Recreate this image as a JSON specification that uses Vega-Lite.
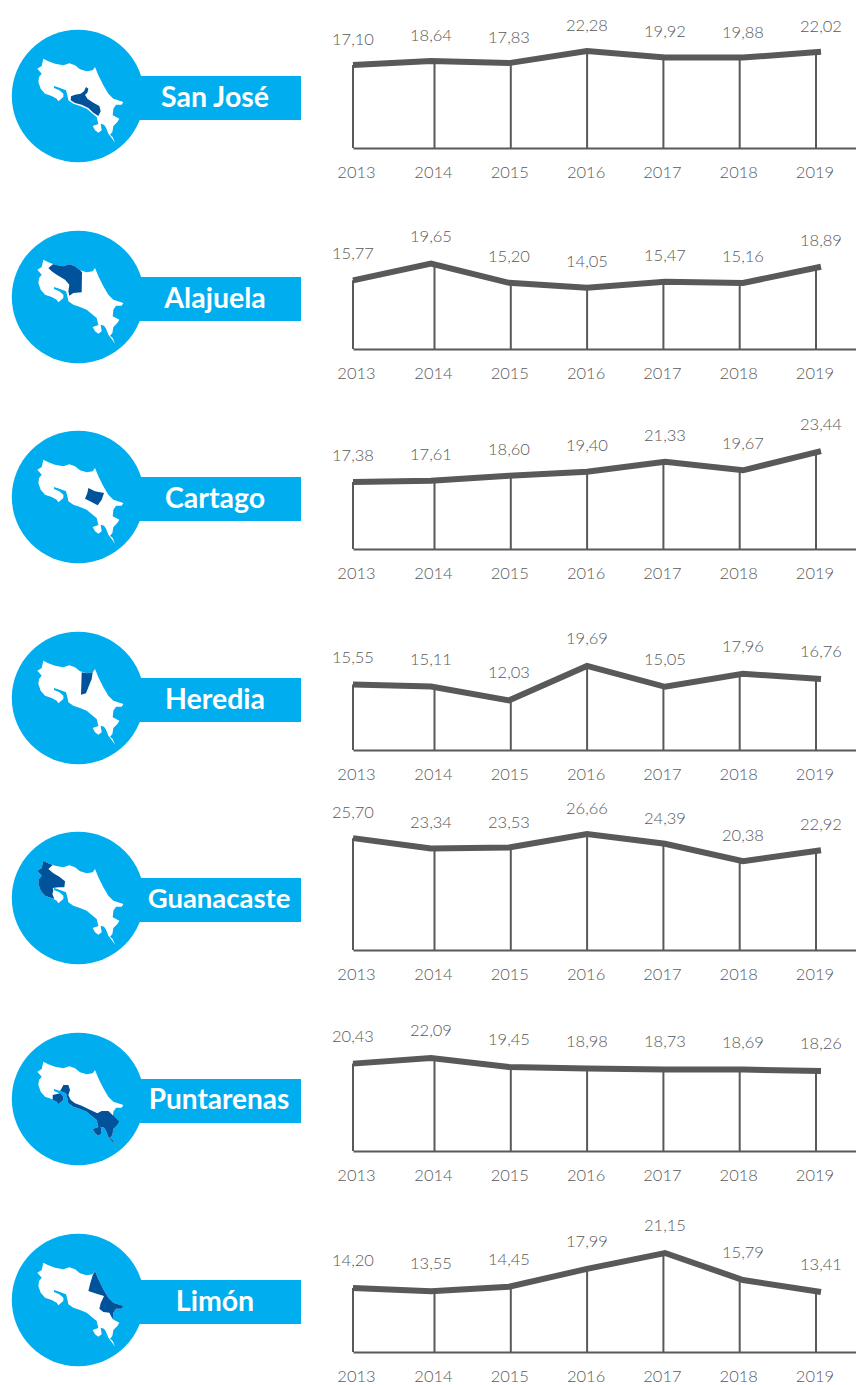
{"$schema":"https://vega.github.io/schema/vega-lite/v6.json","background":"white","padding":0,"spacing":0,"bounds":"flush","align":"each","columns":2,
"config":{"view":{"stroke":null},"locale":{"number":{"decimal":",","thousands":".","grouping":[3],"currency":["","€"]}},
"text":{"font":"Lato","fontSize":16.5,"fontWeight":300,"color":"#595959"},
"axisX":{"title":null,"ticks":false,"grid":false,"domainColor":"#595959","domainWidth":2,"labelFont":"Lato","labelFontSize":16.5,"labelFontWeight":300,"labelColor":"#595959","labelPadding":16,"labelFlush":false,"labelOverlap":false}},
"datasets":{
"tasas":[
{"provincia":"San José","anio":2013,"valor":17.10},{"provincia":"San José","anio":2014,"valor":18.64},{"provincia":"San José","anio":2015,"valor":17.83},{"provincia":"San José","anio":2016,"valor":22.28},{"provincia":"San José","anio":2017,"valor":19.92},{"provincia":"San José","anio":2018,"valor":19.88},{"provincia":"San José","anio":2019,"valor":22.02},
{"provincia":"Alajuela","anio":2013,"valor":15.77},{"provincia":"Alajuela","anio":2014,"valor":19.65},{"provincia":"Alajuela","anio":2015,"valor":15.20},{"provincia":"Alajuela","anio":2016,"valor":14.05},{"provincia":"Alajuela","anio":2017,"valor":15.47},{"provincia":"Alajuela","anio":2018,"valor":15.16},{"provincia":"Alajuela","anio":2019,"valor":18.89},
{"provincia":"Cartago","anio":2013,"valor":17.38},{"provincia":"Cartago","anio":2014,"valor":17.61},{"provincia":"Cartago","anio":2015,"valor":18.60},{"provincia":"Cartago","anio":2016,"valor":19.40},{"provincia":"Cartago","anio":2017,"valor":21.33},{"provincia":"Cartago","anio":2018,"valor":19.67},{"provincia":"Cartago","anio":2019,"valor":23.44},
{"provincia":"Heredia","anio":2013,"valor":15.55},{"provincia":"Heredia","anio":2014,"valor":15.11},{"provincia":"Heredia","anio":2015,"valor":12.03},{"provincia":"Heredia","anio":2016,"valor":19.69},{"provincia":"Heredia","anio":2017,"valor":15.05},{"provincia":"Heredia","anio":2018,"valor":17.96},{"provincia":"Heredia","anio":2019,"valor":16.76},
{"provincia":"Guanacaste","anio":2013,"valor":25.70},{"provincia":"Guanacaste","anio":2014,"valor":23.34},{"provincia":"Guanacaste","anio":2015,"valor":23.53},{"provincia":"Guanacaste","anio":2016,"valor":26.66},{"provincia":"Guanacaste","anio":2017,"valor":24.39},{"provincia":"Guanacaste","anio":2018,"valor":20.38},{"provincia":"Guanacaste","anio":2019,"valor":22.92},
{"provincia":"Puntarenas","anio":2013,"valor":20.43},{"provincia":"Puntarenas","anio":2014,"valor":22.09},{"provincia":"Puntarenas","anio":2015,"valor":19.45},{"provincia":"Puntarenas","anio":2016,"valor":18.98},{"provincia":"Puntarenas","anio":2017,"valor":18.73},{"provincia":"Puntarenas","anio":2018,"valor":18.69},{"provincia":"Puntarenas","anio":2019,"valor":18.26},
{"provincia":"Limón","anio":2013,"valor":14.20},{"provincia":"Limón","anio":2014,"valor":13.55},{"provincia":"Limón","anio":2015,"valor":14.45},{"provincia":"Limón","anio":2016,"valor":17.99},{"provincia":"Limón","anio":2017,"valor":21.15},{"provincia":"Limón","anio":2018,"valor":15.79},{"provincia":"Limón","anio":2019,"valor":13.41}
],
"mapa":[
{"type":"Feature","properties":{"nombre":"Franja"},"geometry":{"type":"Polygon","coordinates":[[[-84.46,10.58],[-77.77,10.58],[-77.77,9.26],[-84.46,9.26],[-84.46,10.58]]]}},
{"type":"Feature","properties":{"nombre":"Costa Rica"},"geometry":{"type":"Polygon","coordinates":[[[-85.68,10.8],[-85.55,10.88],[-85.5,11.1],[-85.35,11.02],[-85.15,10.95],[-84.9,10.9],[-84.72,10.96],[-84.55,10.9],[-84.4,10.78],[-84.2,10.72],[-84.02,10.75],[-83.95,10.85],[-83.85,10.6],[-83.7,10.3],[-83.55,10.05],[-83.4,9.9],[-83.1,9.8],[-83.15,9.72],[-83.32,9.72],[-83.4,9.6],[-83.42,9.4],[-83.22,9.3],[-83.28,9.2],[-83.4,9.08],[-83.43,8.9],[-83.5,8.82],[-83.42,8.75],[-83.35,8.58],[-83.45,8.72],[-83.55,8.85],[-83.62,9.03],[-83.68,9.12],[-83.78,9.15],[-83.75,8.95],[-83.85,8.88],[-83.95,8.95],[-84.02,9.08],[-83.85,9.14],[-83.9,9.35],[-84.02,9.45],[-84.2,9.6],[-84.4,9.68],[-84.6,9.75],[-84.75,9.85],[-84.78,10.0],[-84.82,10.15],[-85.0,10.22],[-85.18,10.28],[-85.18,10.22],[-85.02,10.15],[-84.9,10.05],[-84.9,9.95],[-85.05,9.82],[-85.1,9.9],[-85.25,9.98],[-85.45,10.05],[-85.58,10.2],[-85.65,10.4],[-85.63,10.55],[-85.55,10.65],[-85.68,10.8]]]}},
{"type":"Feature","properties":{"nombre":"San José"},"geometry":{"type":"Polygon","coordinates":[[[-84.22,10.25],[-84.15,10.2],[-84.18,10.08],[-84.25,10.02],[-84.18,9.9],[-84.0,9.78],[-83.82,9.68],[-83.78,9.52],[-83.85,9.38],[-84.0,9.48],[-84.15,9.62],[-84.35,9.72],[-84.55,9.77],[-84.68,9.85],[-84.67,9.97],[-84.55,10.02],[-84.38,10.05],[-84.28,10.12],[-84.22,10.25]]]}},
{"type":"Feature","properties":{"nombre":"Alajuela"},"geometry":{"type":"Polygon","coordinates":[[[-85.35,10.85],[-85.2,10.97],[-85.15,10.95],[-84.9,10.9],[-84.72,10.96],[-84.55,10.9],[-84.4,10.78],[-84.34,10.72],[-84.35,10.12],[-84.6,10.1],[-84.72,10.02],[-84.75,10.15],[-84.72,10.35],[-84.85,10.5],[-85.1,10.65],[-85.25,10.75],[-85.35,10.85]]]}},
{"type":"Feature","properties":{"nombre":"Cartago"},"geometry":{"type":"Polygon","coordinates":[[[-84.15,10.25],[-83.95,10.15],[-83.68,10.1],[-83.75,9.9],[-83.87,9.73],[-84.0,9.8],[-84.25,9.93],[-84.18,10.1],[-84.15,10.25]]]}},
{"type":"Feature","properties":{"nombre":"Heredia"},"geometry":{"type":"Polygon","coordinates":[[[-84.35,10.75],[-84.2,10.72],[-84.02,10.75],[-84.05,10.55],[-84.15,10.3],[-84.22,10.12],[-84.37,10.08],[-84.35,10.75]]]}},
{"type":"Feature","properties":{"nombre":"Guanacaste"},"geometry":{"type":"Polygon","coordinates":[[[-85.68,10.8],[-85.55,10.88],[-85.5,11.1],[-85.35,11.02],[-85.22,10.97],[-85.35,10.85],[-85.2,10.72],[-85.02,10.62],[-84.85,10.48],[-84.87,10.3],[-85.05,10.3],[-85.22,10.28],[-85.2,10.2],[-85.23,10.1],[-85.17,9.95],[-85.25,9.98],[-85.45,10.05],[-85.58,10.2],[-85.65,10.4],[-85.63,10.55],[-85.55,10.65],[-85.68,10.8]]]}},
{"type":"Feature","properties":{"nombre":"Puntarenas"},"geometry":{"type":"MultiPolygon","coordinates":[[[[-85.22,10.1],[-85.0,10.15],[-84.9,10.05],[-84.9,9.95],[-85.05,9.82],[-85.1,9.9],[-85.22,9.96],[-85.22,10.1]]],[[[-85.18,10.28],[-85.0,10.22],[-84.95,10.3],[-84.9,10.4],[-84.75,10.4],[-84.7,10.25],[-84.75,10.1],[-84.68,9.95],[-84.55,9.85],[-84.35,9.78],[-84.15,9.68],[-83.88,9.55],[-83.75,9.62],[-83.55,9.62],[-83.4,9.48],[-83.22,9.3],[-83.28,9.2],[-83.4,9.08],[-83.43,8.9],[-83.5,8.82],[-83.42,8.75],[-83.35,8.58],[-83.45,8.72],[-83.55,8.85],[-83.62,9.03],[-83.68,9.12],[-83.78,9.15],[-83.75,8.95],[-83.85,8.88],[-83.95,8.95],[-84.02,9.08],[-83.85,9.14],[-83.9,9.35],[-84.02,9.45],[-84.2,9.6],[-84.4,9.68],[-84.6,9.75],[-84.75,9.85],[-84.78,10.0],[-84.82,10.15],[-85.0,10.22],[-85.18,10.28]]]]}},
{"type":"Feature","properties":{"nombre":"Limón"},"geometry":{"type":"Polygon","coordinates":[[[-83.95,10.85],[-83.85,10.6],[-83.7,10.3],[-83.55,10.05],[-83.4,9.9],[-83.1,9.8],[-83.15,9.72],[-83.32,9.72],[-83.4,9.6],[-83.42,9.4],[-83.52,9.6],[-83.7,9.62],[-83.82,9.72],[-83.78,9.88],[-83.68,10.1],[-83.95,10.18],[-84.15,10.25],[-84.1,10.45],[-84.02,10.72],[-83.95,10.85]]]}}
]},
"concat":[
{"width":353,"height":201,"projection":{"type":"identity","reflectY":true,"scale":33.333,"translate":[2893.33,428.67]},"layer":[
{"data":{"name":"mapa"},"transform":[{"filter":"datum.properties.nombre==='Franja'"}],"mark":{"type":"geoshape","fill":"#00aeef","stroke":null}},
{"data":{"values":[{"provincia":"San José"}]},"mark":{"type":"point","shape":"circle","filled":true,"opacity":1,"color":"#00aeef","size":17550},"encoding":{"longitude":{"datum":-84.46},"latitude":{"datum":9.98}}},
{"data":{"name":"mapa"},"transform":[{"filter":"datum.properties.nombre==='Costa Rica'"}],"mark":{"type":"geoshape","fill":"#ffffff","stroke":null}},
{"data":{"name":"mapa"},"transform":[{"filter":"datum.properties.nombre==='San José'"}],"mark":{"type":"geoshape","fill":"#00529b","stroke":null}},
{"data":{"values":[{"provincia":"San José"}]},"mark":{"type":"text","font":"Lato","fontWeight":"bold","fontSize":28.5,"color":"#ffffff"},"encoding":{"longitude":{"datum":-80.35},"latitude":{"datum":9.92},"text":{"field":"provincia"}}}
]},
{"width":503,"height":148,"data":{"name":"tasas"},"transform":[{"filter":"datum.provincia==='San José'"}],"resolve":{"scale":{"x":"independent"}},
"encoding":{"y":{"field":"valor","type":"quantitative","axis":null,"scale":{"domain":[-13.6,41.2],"nice":false}}},
"layer":[
{"mark":{"type":"rule","color":"#595959","strokeWidth":2},"encoding":{"x":{"field":"anio","type":"quantitative","axis":{"format":"d","values":[2013,2014,2015,2016,2017,2018,2019],"labelOffset":{"expr":"datum.value===2013?3:-1.5"}},"scale":{"domain":[2013,2014,2019,2019.524],"range":[0,81.5,463,503],"nice":false}},"y2":{"datum":-13.6}}},
{"mark":{"type":"line","color":"#595959","strokeWidth":6},"encoding":{"x":{"field":"anio","type":"quantitative","axis":null,"scale":{"domain":[2013,2019],"range":[0,468],"nice":false}}}},
{"mark":{"type":"text","dy":-25},"encoding":{"x":{"field":"anio","type":"quantitative","axis":null,"scale":{"domain":[2013,2019],"range":[0,468],"nice":false}},"text":{"field":"valor","type":"quantitative","format":".2f"}}}
]},
{"width":353,"height":200,"projection":{"type":"identity","reflectY":true,"scale":33.333,"translate":[2893.33,428.67]},"layer":[
{"data":{"name":"mapa"},"transform":[{"filter":"datum.properties.nombre==='Franja'"}],"mark":{"type":"geoshape","fill":"#00aeef","stroke":null}},
{"data":{"values":[{"provincia":"Alajuela"}]},"mark":{"type":"point","shape":"circle","filled":true,"opacity":1,"color":"#00aeef","size":17550},"encoding":{"longitude":{"datum":-84.46},"latitude":{"datum":9.98}}},
{"data":{"name":"mapa"},"transform":[{"filter":"datum.properties.nombre==='Costa Rica'"}],"mark":{"type":"geoshape","fill":"#ffffff","stroke":null}},
{"data":{"name":"mapa"},"transform":[{"filter":"datum.properties.nombre==='Alajuela'"}],"mark":{"type":"geoshape","fill":"#00529b","stroke":null}},
{"data":{"values":[{"provincia":"Alajuela"}]},"mark":{"type":"text","font":"Lato","fontWeight":"bold","fontSize":28.5,"color":"#ffffff"},"encoding":{"longitude":{"datum":-80.35},"latitude":{"datum":9.92},"text":{"field":"provincia"}}}
]},
{"width":503,"height":148,"data":{"name":"tasas"},"transform":[{"filter":"datum.provincia==='Alajuela'"}],"resolve":{"scale":{"x":"independent"}},
"encoding":{"y":{"field":"valor","type":"quantitative","axis":null,"scale":{"domain":[0,34],"nice":false}}},
"layer":[
{"mark":{"type":"rule","color":"#595959","strokeWidth":2},"encoding":{"x":{"field":"anio","type":"quantitative","axis":{"format":"d","values":[2013,2014,2015,2016,2017,2018,2019],"labelOffset":{"expr":"datum.value===2013?3:-1.5"}},"scale":{"domain":[2013,2014,2019,2019.524],"range":[0,81.5,463,503],"nice":false}},"y2":{"datum":0}}},
{"mark":{"type":"line","color":"#595959","strokeWidth":6},"encoding":{"x":{"field":"anio","type":"quantitative","axis":null,"scale":{"domain":[2013,2019],"range":[0,468],"nice":false}}}},
{"mark":{"type":"text","dy":-26},"encoding":{"x":{"field":"anio","type":"quantitative","axis":null,"scale":{"domain":[2013,2019],"range":[0,468],"nice":false}},"text":{"field":"valor","type":"quantitative","format":".2f"}}}
]},
{"width":353,"height":201,"projection":{"type":"identity","reflectY":true,"scale":33.333,"translate":[2893.33,428.67]},"layer":[
{"data":{"name":"mapa"},"transform":[{"filter":"datum.properties.nombre==='Franja'"}],"mark":{"type":"geoshape","fill":"#00aeef","stroke":null}},
{"data":{"values":[{"provincia":"Cartago"}]},"mark":{"type":"point","shape":"circle","filled":true,"opacity":1,"color":"#00aeef","size":17550},"encoding":{"longitude":{"datum":-84.46},"latitude":{"datum":9.98}}},
{"data":{"name":"mapa"},"transform":[{"filter":"datum.properties.nombre==='Costa Rica'"}],"mark":{"type":"geoshape","fill":"#ffffff","stroke":null}},
{"data":{"name":"mapa"},"transform":[{"filter":"datum.properties.nombre==='Cartago'"}],"mark":{"type":"geoshape","fill":"#00529b","stroke":null}},
{"data":{"values":[{"provincia":"Cartago"}]},"mark":{"type":"text","font":"Lato","fontWeight":"bold","fontSize":28.5,"color":"#ffffff"},"encoding":{"longitude":{"datum":-80.35},"latitude":{"datum":9.92},"text":{"field":"provincia"}}}
]},
{"width":503,"height":148,"data":{"name":"tasas"},"transform":[{"filter":"datum.provincia==='Cartago'"}],"resolve":{"scale":{"x":"independent"}},
"encoding":{"y":{"field":"valor","type":"quantitative","axis":null,"scale":{"domain":[4.24,33.26],"nice":false}}},
"layer":[
{"mark":{"type":"rule","color":"#595959","strokeWidth":2},"encoding":{"x":{"field":"anio","type":"quantitative","axis":{"format":"d","values":[2013,2014,2015,2016,2017,2018,2019],"labelOffset":{"expr":"datum.value===2013?3:-1.5"}},"scale":{"domain":[2013,2014,2019,2019.524],"range":[0,81.5,463,503],"nice":false}},"y2":{"datum":4.24}}},
{"mark":{"type":"line","color":"#595959","strokeWidth":6},"encoding":{"x":{"field":"anio","type":"quantitative","axis":null,"scale":{"domain":[2013,2019],"range":[0,468],"nice":false}}}},
{"mark":{"type":"text","dy":-26},"encoding":{"x":{"field":"anio","type":"quantitative","axis":null,"scale":{"domain":[2013,2019],"range":[0,468],"nice":false}},"text":{"field":"valor","type":"quantitative","format":".2f"}}}
]},
{"width":353,"height":200,"projection":{"type":"identity","reflectY":true,"scale":33.333,"translate":[2893.33,428.67]},"layer":[
{"data":{"name":"mapa"},"transform":[{"filter":"datum.properties.nombre==='Franja'"}],"mark":{"type":"geoshape","fill":"#00aeef","stroke":null}},
{"data":{"values":[{"provincia":"Heredia"}]},"mark":{"type":"point","shape":"circle","filled":true,"opacity":1,"color":"#00aeef","size":17550},"encoding":{"longitude":{"datum":-84.46},"latitude":{"datum":9.98}}},
{"data":{"name":"mapa"},"transform":[{"filter":"datum.properties.nombre==='Costa Rica'"}],"mark":{"type":"geoshape","fill":"#ffffff","stroke":null}},
{"data":{"name":"mapa"},"transform":[{"filter":"datum.properties.nombre==='Heredia'"}],"mark":{"type":"geoshape","fill":"#00529b","stroke":null}},
{"data":{"values":[{"provincia":"Heredia"}]},"mark":{"type":"text","font":"Lato","fontWeight":"bold","fontSize":28.5,"color":"#ffffff"},"encoding":{"longitude":{"datum":-80.35},"latitude":{"datum":9.92},"text":{"field":"provincia"}}}
]},
{"width":503,"height":148,"data":{"name":"tasas"},"transform":[{"filter":"datum.provincia==='Heredia'"}],"resolve":{"scale":{"x":"independent"}},
"encoding":{"y":{"field":"valor","type":"quantitative","axis":null,"scale":{"domain":[1,33.9],"nice":false}}},
"layer":[
{"mark":{"type":"rule","color":"#595959","strokeWidth":2},"encoding":{"x":{"field":"anio","type":"quantitative","axis":{"format":"d","values":[2013,2014,2015,2016,2017,2018,2019],"labelOffset":{"expr":"datum.value===2013?3:-1.5"}},"scale":{"domain":[2013,2014,2019,2019.524],"range":[0,81.5,463,503],"nice":false}},"y2":{"datum":1}}},
{"mark":{"type":"line","color":"#595959","strokeWidth":6},"encoding":{"x":{"field":"anio","type":"quantitative","axis":null,"scale":{"domain":[2013,2019],"range":[0,468],"nice":false}}}},
{"mark":{"type":"text","dy":-27},"encoding":{"x":{"field":"anio","type":"quantitative","axis":null,"scale":{"domain":[2013,2019],"range":[0,468],"nice":false}},"text":{"field":"valor","type":"quantitative","format":".2f"}}}
]},
{"width":353,"height":201,"projection":{"type":"identity","reflectY":true,"scale":33.333,"translate":[2893.33,428.67]},"layer":[
{"data":{"name":"mapa"},"transform":[{"filter":"datum.properties.nombre==='Franja'"}],"mark":{"type":"geoshape","fill":"#00aeef","stroke":null}},
{"data":{"values":[{"provincia":"Guanacaste"}]},"mark":{"type":"point","shape":"circle","filled":true,"opacity":1,"color":"#00aeef","size":17550},"encoding":{"longitude":{"datum":-84.46},"latitude":{"datum":9.98}}},
{"data":{"name":"mapa"},"transform":[{"filter":"datum.properties.nombre==='Costa Rica'"}],"mark":{"type":"geoshape","fill":"#ffffff","stroke":null}},
{"data":{"name":"mapa"},"transform":[{"filter":"datum.properties.nombre==='Guanacaste'"}],"mark":{"type":"geoshape","fill":"#00529b","stroke":null}},
{"data":{"values":[{"provincia":"Guanacaste"}]},"mark":{"type":"text","font":"Lato","fontWeight":"bold","fontSize":27.5,"color":"#ffffff"},"encoding":{"longitude":{"datum":-80.23},"latitude":{"datum":9.92},"text":{"field":"provincia"}}}
]},
{"width":503,"height":148,"data":{"name":"tasas"},"transform":[{"filter":"datum.provincia==='Guanacaste'"}],"resolve":{"scale":{"x":"independent"}},
"encoding":{"y":{"field":"valor","type":"quantitative","axis":null,"scale":{"domain":[0,34],"nice":false}}},
"layer":[
{"mark":{"type":"rule","color":"#595959","strokeWidth":2},"encoding":{"x":{"field":"anio","type":"quantitative","axis":{"format":"d","values":[2013,2014,2015,2016,2017,2018,2019],"labelOffset":{"expr":"datum.value===2013?3:-1.5"}},"scale":{"domain":[2013,2014,2019,2019.524],"range":[0,81.5,463,503],"nice":false}},"y2":{"datum":0}}},
{"mark":{"type":"line","color":"#595959","strokeWidth":6},"encoding":{"x":{"field":"anio","type":"quantitative","axis":null,"scale":{"domain":[2013,2019],"range":[0,468],"nice":false}}}},
{"mark":{"type":"text","dy":-25},"encoding":{"x":{"field":"anio","type":"quantitative","axis":null,"scale":{"domain":[2013,2019],"range":[0,468],"nice":false}},"text":{"field":"valor","type":"quantitative","format":".2f"}}}
]},
{"width":353,"height":201,"projection":{"type":"identity","reflectY":true,"scale":33.333,"translate":[2893.33,428.67]},"layer":[
{"data":{"name":"mapa"},"transform":[{"filter":"datum.properties.nombre==='Franja'"}],"mark":{"type":"geoshape","fill":"#00aeef","stroke":null}},
{"data":{"values":[{"provincia":"Puntarenas"}]},"mark":{"type":"point","shape":"circle","filled":true,"opacity":1,"color":"#00aeef","size":17550},"encoding":{"longitude":{"datum":-84.46},"latitude":{"datum":9.98}}},
{"data":{"name":"mapa"},"transform":[{"filter":"datum.properties.nombre==='Costa Rica'"}],"mark":{"type":"geoshape","fill":"#ffffff","stroke":null}},
{"data":{"name":"mapa"},"transform":[{"filter":"datum.properties.nombre==='Puntarenas'"}],"mark":{"type":"geoshape","fill":"#00529b","stroke":null}},
{"data":{"values":[{"provincia":"Puntarenas"}]},"mark":{"type":"text","font":"Lato","fontWeight":"bold","fontSize":28,"color":"#ffffff"},"encoding":{"longitude":{"datum":-80.23},"latitude":{"datum":9.92},"text":{"field":"provincia"}}}
]},
{"width":503,"height":148,"data":{"name":"tasas"},"transform":[{"filter":"datum.provincia==='Puntarenas'"}],"resolve":{"scale":{"x":"independent"}},
"encoding":{"y":{"field":"valor","type":"quantitative","axis":null,"scale":{"domain":[-5.27,38.26],"nice":false}}},
"layer":[
{"mark":{"type":"rule","color":"#595959","strokeWidth":2},"encoding":{"x":{"field":"anio","type":"quantitative","axis":{"format":"d","values":[2013,2014,2015,2016,2017,2018,2019],"labelOffset":{"expr":"datum.value===2013?3:-1.5"}},"scale":{"domain":[2013,2014,2019,2019.524],"range":[0,81.5,463,503],"nice":false}},"y2":{"datum":-5.27}}},
{"mark":{"type":"line","color":"#595959","strokeWidth":6},"encoding":{"x":{"field":"anio","type":"quantitative","axis":null,"scale":{"domain":[2013,2019],"range":[0,468],"nice":false}}}},
{"mark":{"type":"text","dy":-27},"encoding":{"x":{"field":"anio","type":"quantitative","axis":null,"scale":{"domain":[2013,2019],"range":[0,468],"nice":false}},"text":{"field":"valor","type":"quantitative","format":".2f"}}}
]},
{"width":353,"height":181,"projection":{"type":"identity","reflectY":true,"scale":33.333,"translate":[2893.33,428.67]},"layer":[
{"data":{"name":"mapa"},"transform":[{"filter":"datum.properties.nombre==='Franja'"}],"mark":{"type":"geoshape","fill":"#00aeef","stroke":null}},
{"data":{"values":[{"provincia":"Limón"}]},"mark":{"type":"point","shape":"circle","filled":true,"opacity":1,"color":"#00aeef","size":17550},"encoding":{"longitude":{"datum":-84.46},"latitude":{"datum":9.98}}},
{"data":{"name":"mapa"},"transform":[{"filter":"datum.properties.nombre==='Costa Rica'"}],"mark":{"type":"geoshape","fill":"#ffffff","stroke":null}},
{"data":{"name":"mapa"},"transform":[{"filter":"datum.properties.nombre==='Limón'"}],"mark":{"type":"geoshape","fill":"#00529b","stroke":null}},
{"data":{"values":[{"provincia":"Limón"}]},"mark":{"type":"text","font":"Lato","fontWeight":"bold","fontSize":28.5,"color":"#ffffff"},"encoding":{"longitude":{"datum":-80.35},"latitude":{"datum":9.92},"text":{"field":"provincia"}}}
]},
{"width":503,"height":148,"data":{"name":"tasas"},"transform":[{"filter":"datum.provincia==='Limón'"}],"resolve":{"scale":{"x":"independent"}},
"encoding":{"y":{"field":"valor","type":"quantitative","axis":null,"scale":{"domain":[1.5,30.87],"nice":false}}},
"layer":[
{"mark":{"type":"rule","color":"#595959","strokeWidth":2},"encoding":{"x":{"field":"anio","type":"quantitative","axis":{"format":"d","values":[2013,2014,2015,2016,2017,2018,2019],"labelOffset":{"expr":"datum.value===2013?3:-1.5"}},"scale":{"domain":[2013,2014,2019,2019.524],"range":[0,81.5,463,503],"nice":false}},"y2":{"datum":1.5}}},
{"mark":{"type":"line","color":"#595959","strokeWidth":6},"encoding":{"x":{"field":"anio","type":"quantitative","axis":null,"scale":{"domain":[2013,2019],"range":[0,468],"nice":false}}}},
{"mark":{"type":"text","dy":-27},"encoding":{"x":{"field":"anio","type":"quantitative","axis":null,"scale":{"domain":[2013,2019],"range":[0,468],"nice":false}},"text":{"field":"valor","type":"quantitative","format":".2f"}}}
]}
]}
